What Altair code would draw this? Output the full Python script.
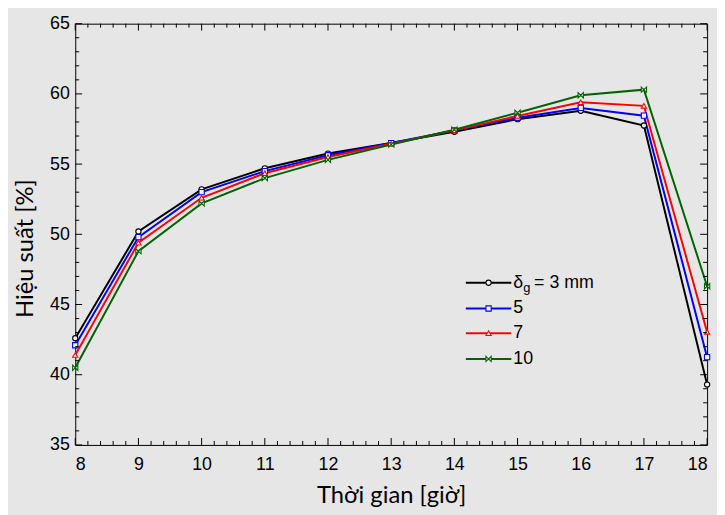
import altair as alt
import pandas as pd
import numpy as np

hours = [8, 9, 10, 11, 12, 13, 14, 15, 16, 17, 18]
eff_3 = [42.6, 50.2, 53.2, 54.7, 55.75, 56.5, 57.3, 58.2, 58.8, 57.75, 39.3]
eff_5 = [42.1, 49.8, 53.0, 54.5, 55.63, 56.5, 57.4, 58.3, 59.0, 58.45, 41.25]
eff_7 = [41.4, 49.4, 52.6, 54.35, 55.5, 56.45, 57.4, 58.43, 59.4, 59.15, 43.05]
eff_10 = [40.5, 48.8, 52.2, 54.0, 55.3, 56.4, 57.45, 58.66, 59.9, 60.3, 46.3]

series_names = ["3", "5", "7", "10"]
series_vals = [eff_3, eff_5, eff_7, eff_10]
colors = ["#000000", "#0000ff", "#ff0000", "#006400"]
bowtie = "M-1,-1L1,1L1,-1L-1,1Z"
shapes = ["circle", "square", "triangle-up", bowtie]

x_major = list(range(8, 19))
x_minor = [round(v, 1) for v in np.arange(8, 18.01, 0.2) if abs(v - round(v)) > 1e-6]
y_major = [35, 40, 45, 50, 55, 60, 65]
y_minor = [v for v in range(35, 66) if v % 5 != 0]

W, H = 639, 426
BG = "#e6e6e6"

rows = []
for i, (name, vals) in enumerate(zip(series_names, series_vals)):
    for h, v in zip(hours, vals):
        rows.append({"hour": h, "eff": v, "series": name, "ord": i})
df = pd.DataFrame(rows)

xscale = alt.Scale(domain=[8, 18], nice=False, zero=False)
yscale = alt.Scale(domain=[35, 65], nice=False, zero=False)
cscale = alt.Scale(domain=series_names, range=colors)
sscale = alt.Scale(domain=series_names, range=shapes)

lines = alt.Chart(df).mark_line(strokeWidth=2, clip=True).encode(
    x=alt.X("hour:Q", scale=xscale,
            axis=alt.Axis(title="Thời gian [giờ]", values=x_major, format="d", ticks=False, domain=False,
                          grid=False, labelPadding=11, labelFontSize=18, labelFont="Liberation Sans",
                          labelColor="#000", titleFont="Lato", titleFontSize=24, titleFontWeight="normal",
                          titleColor="#000", titlePadding=10)),
    y=alt.Y("eff:Q", scale=yscale,
            axis=alt.Axis(title="Hiệu suất [%]", values=y_major, ticks=False, domain=False,
                          grid=False, labelPadding=6, labelFontSize=18, labelFont="Liberation Sans",
                          labelColor="#000", titleFont="Lato", titleFontSize=24, titleFontWeight="normal",
                          titleColor="#000", titlePadding=12, titleY=227)),
    color=alt.Color("series:N", scale=cscale, legend=None),
    order=alt.Order("ord:Q"),
)

points = alt.Chart(df).mark_point(filled=False, fill="#f4f4f4", fillOpacity=1, strokeWidth=1.1, size=28).encode(
    x=alt.X("hour:Q", scale=xscale),
    y=alt.Y("eff:Q", scale=yscale),
    stroke=alt.Stroke("series:N", scale=cscale, legend=None),
    shape=alt.Shape("series:N", scale=sscale, legend=None),
)

# tick marks (inward, on all four sides)
def xticks(vals, length):
    d = pd.DataFrame({"v": vals})
    bottom = alt.Chart(d).mark_rule(color="#000", strokeWidth=1).encode(
        x=alt.X("v:Q", scale=xscale), y=alt.value(H), y2=alt.value(H - length))
    top = alt.Chart(d).mark_rule(color="#000", strokeWidth=1).encode(
        x=alt.X("v:Q", scale=xscale), y=alt.value(0), y2=alt.value(length))
    return [bottom, top]

def yticks(vals, length):
    d = pd.DataFrame({"v": vals})
    left = alt.Chart(d).mark_rule(color="#000", strokeWidth=1).encode(
        y=alt.Y("v:Q", scale=yscale), x=alt.value(0), x2=alt.value(length))
    right = alt.Chart(d).mark_rule(color="#000", strokeWidth=1).encode(
        y=alt.Y("v:Q", scale=yscale), x=alt.value(W), x2=alt.value(W - length))
    return [left, right]

tick_layers = xticks(x_major, 7) + xticks(x_minor, 4) + yticks(y_major, 7) + yticks(y_minor, 4)

# manual legend
leg_y = [262, 288, 313, 339]
leg = pd.DataFrame({"series": series_names, "ly": leg_y,
                    "label": ["", "5", "7", "10"]})
leg_line = alt.Chart(leg).mark_rule(strokeWidth=2).encode(
    x=alt.value(395), x2=alt.value(441), y=alt.Y("ly:Q", scale=None),
    color=alt.Color("series:N", scale=cscale, legend=None))
leg_pt = alt.Chart(leg).mark_point(filled=False, fill="#f4f4f4", fillOpacity=1, strokeWidth=1.1, size=28).encode(
    x=alt.value(418), y=alt.Y("ly:Q", scale=None),
    stroke=alt.Stroke("series:N", scale=cscale, legend=None),
    shape=alt.Shape("series:N", scale=sscale, legend=None))
leg_txt = alt.Chart(leg).mark_text(align="left", baseline="middle", fontSize=18,
                                   font="Liberation Sans", color="#000").encode(
    x=alt.value(443), y=alt.Y("ly:Q", scale=None), text="label:N")

first = pd.DataFrame({"ly": [leg_y[0]], "d": ["δ"], "g": ["g"], "rest": ["= 3 mm"]})
t_delta = alt.Chart(first).mark_text(align="left", baseline="middle", fontSize=18,
                                     font="Liberation Sans", color="#000").encode(
    x=alt.value(443), y=alt.Y("ly:Q", scale=None), text="d:N")
t_g = alt.Chart(first).mark_text(align="left", baseline="middle", fontSize=13, dy=5,
                                 font="Liberation Sans", color="#000").encode(
    x=alt.value(453), y=alt.Y("ly:Q", scale=None), text="g:N")
t_rest = alt.Chart(first).mark_text(align="left", baseline="middle", fontSize=18,
                                    font="Liberation Sans", color="#000").encode(
    x=alt.value(464), y=alt.Y("ly:Q", scale=None), text="rest:N")

chart = alt.layer(lines, points, *tick_layers, leg_line, leg_pt, leg_txt, t_delta, t_g, t_rest).properties(
    width=W, height=H, background=BG,
    padding={"left": 68, "top": 13, "right": 10, "bottom": 68},
    autosize=alt.AutoSizeParams(type="none"),
).configure_view(stroke="#000", strokeWidth=1, fill=BG)

chart.save("out.html", embed_options={"renderer": "svg", "actions": False})
